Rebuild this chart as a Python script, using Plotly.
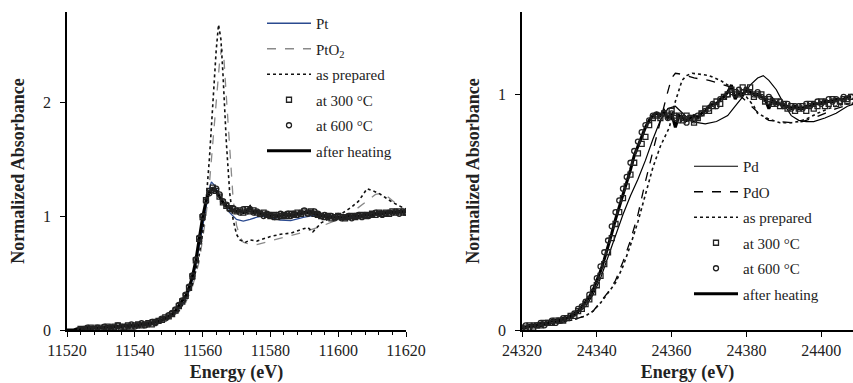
import plotly.graph_objects as go

# ---------------- LEFT PANEL (Pt L3-edge) ----------------
E_pt = [11520, 11525, 11530, 11535, 11540, 11544, 11547, 11550, 11552, 11554, 11555, 11556, 11557, 11558, 11559,
        11560, 11561, 11562, 11562.6, 11563.5, 11565, 11566.5, 11568, 11570, 11572, 11574, 11576, 11578, 11580,
        11583, 11586, 11590, 11594, 11598, 11602, 11606, 11610, 11614, 11617, 11620]
A_pt = [0.00, 0.01, 0.015, 0.02, 0.03, 0.05, 0.07, 0.11, 0.15, 0.22, 0.27, 0.34, 0.44, 0.57, 0.74,
        0.93, 1.10, 1.24, 1.30, 1.27, 1.18, 1.10, 1.03, 0.97, 0.955, 0.97, 0.99, 1.00, 0.985,
        0.965, 0.96, 0.99, 1.01, 1.00, 0.98, 0.99, 1.01, 1.03, 1.04, 1.05]

E_pto2 = [11520, 11530, 11540, 11545, 11550, 11553, 11555, 11557, 11559, 11560, 11561, 11562, 11563, 11564, 11565,
          11565.6, 11566.2, 11567, 11568, 11569, 11570, 11571, 11572, 11574, 11576, 11580, 11585, 11590, 11595,
          11600, 11604, 11608, 11611, 11613, 11615, 11617, 11620]
A_pto2 = [0.00, 0.01, 0.03, 0.05, 0.10, 0.16, 0.24, 0.38, 0.60, 0.78, 1.00, 1.28, 1.65, 2.05, 2.35,
          2.47, 2.42, 2.05, 1.55, 1.15, 0.92, 0.82, 0.77, 0.75, 0.75, 0.78, 0.82, 0.86, 0.91,
          0.97, 1.03, 1.12, 1.19, 1.20, 1.16, 1.11, 1.05]

E_prep_L = [11520, 11530, 11540, 11545, 11550, 11553, 11555, 11557, 11558, 11559, 11560, 11561, 11562, 11563, 11564,
            11564.7, 11565.4, 11566, 11567, 11568, 11569, 11570, 11571, 11572.7, 11574, 11576, 11578, 11580, 11583,
            11586, 11589, 11591, 11592.5, 11595, 11598, 11601, 11604, 11606, 11608.5, 11610, 11612, 11614, 11616,
            11618, 11620]
A_prep_L = [0.00, 0.01, 0.03, 0.05, 0.10, 0.17, 0.26, 0.40, 0.52, 0.66, 0.85, 1.12, 1.50, 1.98, 2.45,
            2.68, 2.55, 2.25, 1.65, 1.20, 0.97, 0.84, 0.79, 0.77, 0.79, 0.78, 0.80, 0.82, 0.84,
            0.85, 0.88, 0.90, 0.86, 0.94, 0.99, 1.02, 1.08, 1.13, 1.24, 1.22, 1.20, 1.16, 1.12,
            1.09, 1.06]

E_exp_L = list(range(11524, 11621))
A_300_L = [0.01, 0.00, 0.01, 0.02, 0.01, 0.02, 0.01, 0.02, 0.03, 0.02,
           0.03, 0.04, 0.02, 0.03, 0.04, 0.03, 0.04, 0.05, 0.04, 0.05,
           0.06, 0.05, 0.07, 0.08, 0.09, 0.11, 0.12, 0.14, 0.17, 0.21,
           0.25, 0.30, 0.37, 0.47, 0.61, 0.80, 0.99, 1.14, 1.22, 1.25,
           1.22, 1.17, 1.12, 1.09, 1.07, 1.06, 1.04, 1.05, 1.03, 1.06,
           1.04, 1.05, 1.03, 1.02, 1.03, 1.01, 1.00, 1.01, 0.99, 1.00,
           1.01, 1.00, 1.02, 1.01, 1.03, 1.02, 1.04, 1.03, 1.04, 1.02,
           1.01, 1.00, 0.99, 1.00, 0.98, 0.99, 1.00, 0.99, 0.98, 0.99,
           1.00, 0.99, 1.00, 1.01, 1.00, 1.01, 1.02, 1.01, 1.03, 1.02,
           1.03, 1.02, 1.04, 1.03, 1.04, 1.03, 1.03]
A_600_L = [0.00, 0.01, 0.02, 0.01, 0.00, 0.02, 0.01, 0.03, 0.01, 0.02,
           0.02, 0.04, 0.03, 0.02, 0.03, 0.05, 0.03, 0.04, 0.06, 0.04,
           0.05, 0.07, 0.06, 0.08, 0.10, 0.10, 0.13, 0.15, 0.18, 0.22,
           0.26, 0.31, 0.38, 0.48, 0.62, 0.81, 1.00, 1.13, 1.20, 1.23,
           1.24, 1.19, 1.13, 1.10, 1.06, 1.07, 1.05, 1.03, 1.06, 1.04,
           1.06, 1.03, 1.04, 1.02, 1.00, 1.02, 1.01, 0.99, 1.01, 1.02,
           1.00, 1.02, 1.00, 1.02, 1.01, 1.03, 1.05, 1.02, 1.03, 1.04,
           1.02, 1.00, 1.01, 0.99, 1.00, 0.98, 1.00, 0.98, 0.99, 1.00,
           0.98, 1.00, 1.01, 0.99, 1.01, 1.00, 1.01, 1.03, 1.02, 1.01,
           1.02, 1.03, 1.03, 1.04, 1.02, 1.04, 1.03]

E_heat_L = list(range(11520, 11621))
A_heat_L = [0.00, 0.00, 0.00, 0.01, 0.01, 0.01, 0.02, 0.01, 0.02, 0.02,
            0.02, 0.02, 0.03, 0.02, 0.03, 0.03, 0.03, 0.04, 0.03, 0.04,
            0.04, 0.04, 0.05, 0.05, 0.06, 0.06, 0.07, 0.08, 0.09, 0.10,
            0.12, 0.14, 0.17, 0.21, 0.25, 0.30, 0.37, 0.47, 0.61, 0.80,
            0.99, 1.13, 1.21, 1.24, 1.22, 1.17, 1.12, 1.09, 1.07, 1.05,
            1.04, 1.05, 1.03, 1.04, 1.08, 1.03, 1.04, 1.02, 1.02, 1.01,
            1.00, 1.01, 1.00, 1.00, 1.01, 1.00, 1.01, 1.01, 1.02, 1.02,
            1.03, 1.03, 1.03, 1.02, 1.01, 1.00, 1.00, 0.99, 0.99, 0.99,
            0.99, 0.99, 0.99, 1.00, 1.00, 1.00, 1.00, 1.00, 1.01, 1.01,
            1.01, 1.02, 1.02, 1.02, 1.03, 1.03, 1.03, 1.03, 1.04, 1.04,
            1.04]

# ---------------- RIGHT PANEL (Pd K-edge) ----------------
E_pd = [24320, 24325, 24330, 24334, 24337, 24339, 24341, 24343, 24345, 24347,
        24349, 24351, 24353, 24355, 24357, 24359, 24361, 24363, 24365, 24367,
        24369, 24372, 24375, 24377, 24379, 24381, 24383, 24384.5, 24386, 24388,
        24390, 24392, 24394, 24396, 24398, 24401, 24404, 24407, 24409]
A_pd = [0.01, 0.02, 0.035, 0.06, 0.10, 0.15, 0.22, 0.31, 0.40, 0.49,
        0.57, 0.64, 0.72, 0.81, 0.89, 0.94, 0.95, 0.92, 0.89, 0.88,
        0.875, 0.885, 0.91, 0.95, 0.99, 1.04, 1.07, 1.08, 1.06, 1.02,
        0.96, 0.91, 0.89, 0.885, 0.885, 0.90, 0.92, 0.95, 0.96]

E_pdo = [24320, 24325, 24330, 24334, 24337, 24339, 24341, 24343, 24345, 24347,
         24349, 24351, 24353, 24355, 24357, 24358.6, 24360, 24361, 24363, 24366,
         24370, 24373, 24376, 24378, 24380, 24382, 24384, 24386, 24389, 24392,
         24395, 24398, 24401, 24404, 24407, 24409]
A_pdo = [0.01, 0.015, 0.03, 0.045, 0.06, 0.08, 0.12, 0.16, 0.21, 0.29,
         0.38, 0.49, 0.63, 0.76, 0.88, 0.99, 1.07, 1.09, 1.085, 1.07,
         1.06, 1.045, 1.03, 1.00, 0.97, 0.94, 0.91, 0.89, 0.885, 0.88,
         0.885, 0.90, 0.92, 0.94, 0.955, 0.96]

E_prep_R = [24320, 24325, 24330, 24334, 24337, 24339, 24341, 24343, 24345, 24347,
            24349, 24351, 24353, 24355, 24357, 24359.4, 24361, 24362.8, 24364, 24365.5,
            24368, 24370, 24373, 24375, 24378, 24380, 24382, 24383, 24386, 24389,
            24392, 24394, 24396.6, 24399, 24402, 24405, 24409]
A_prep_R = [0.01, 0.015, 0.03, 0.045, 0.06, 0.08, 0.115, 0.155, 0.20, 0.27,
            0.36, 0.46, 0.58, 0.69, 0.78, 0.86, 0.97, 1.06, 1.08, 1.09,
            1.085, 1.08, 1.06, 1.04, 1.01, 0.99, 0.95, 0.92, 0.895, 0.88,
            0.88, 0.885, 0.90, 0.92, 0.94, 0.955, 0.965]

E_exp_R = list(range(24320, 24409))
A_300_R = [0.00, 0.01, 0.02, 0.01, 0.02, 0.02, 0.03, 0.03, 0.03, 0.04,
           0.04, 0.04, 0.05, 0.06, 0.06, 0.08, 0.09, 0.11, 0.13, 0.16,
           0.19, 0.23, 0.28, 0.33, 0.39, 0.45, 0.50, 0.56, 0.61, 0.66,
           0.71, 0.75, 0.79, 0.82, 0.87, 0.90, 0.91, 0.90, 0.92, 0.91,
           0.93, 0.90, 0.91, 0.89, 0.91, 0.90, 0.88, 0.90, 0.92, 0.94,
           0.93, 0.95, 0.97, 0.96, 0.99, 1.00, 1.02, 1.01, 1.00, 1.03,
           1.01, 1.03, 0.99, 1.00, 1.00, 0.97, 0.98, 0.96, 0.97, 0.95,
           0.96, 0.94, 0.95, 0.93, 0.94, 0.95, 0.93, 0.96, 0.94, 0.95,
           0.97, 0.95, 0.96, 0.98, 0.96, 0.97, 0.98, 0.97, 0.99]
A_600_R = [0.01, 0.02, 0.01, 0.02, 0.02, 0.03, 0.02, 0.03, 0.04, 0.03,
           0.04, 0.05, 0.05, 0.06, 0.07, 0.09, 0.10, 0.12, 0.15, 0.18,
           0.22, 0.27, 0.33, 0.38, 0.44, 0.50, 0.55, 0.60, 0.65, 0.71,
           0.76, 0.80, 0.84, 0.87, 0.89, 0.91, 0.915, 0.91, 0.92, 0.90,
           0.92, 0.91, 0.89, 0.90, 0.88, 0.90, 0.89, 0.91, 0.92, 0.93,
           0.94, 0.96, 0.95, 0.98, 0.99, 1.00, 1.01, 1.00, 1.02, 1.01,
           1.02, 1.01, 1.00, 1.01, 0.99, 0.98, 0.99, 0.97, 0.96, 0.97,
           0.95, 0.96, 0.94, 0.95, 0.95, 0.94, 0.96, 0.95, 0.96, 0.97,
           0.96, 0.97, 0.98, 0.97, 0.98, 0.97, 0.99, 0.98, 0.99]
A_heat_R = [0.01, 0.01, 0.02, 0.02, 0.02, 0.03, 0.03, 0.03, 0.04, 0.04,
            0.04, 0.05, 0.05, 0.06, 0.07, 0.08, 0.10, 0.12, 0.14, 0.17,
            0.21, 0.25, 0.30, 0.35, 0.41, 0.47, 0.52, 0.58, 0.63, 0.68,
            0.74, 0.78, 0.82, 0.86, 0.89, 0.91, 0.92, 0.91, 0.93, 0.90,
            0.92, 0.86, 0.91, 0.90, 0.89, 0.90, 0.91, 0.90, 0.92, 0.93,
            0.95, 0.96, 0.96, 0.98, 0.99, 1.01, 1.04, 0.98, 1.01, 1.00,
            1.02, 1.01, 1.00, 1.00, 0.99, 0.98, 0.94, 0.98, 0.96, 0.96,
            0.95, 0.95, 0.94, 0.95, 0.94, 0.94, 0.95, 0.95, 0.96, 0.96,
            0.96, 0.97, 0.97, 0.97, 0.98, 0.98, 0.98, 0.99, 0.99]

X_TICKS_L = [11520, 11540, 11560, 11580, 11600, 11620]
X_TICKS_R = [24320, 24340, 24360, 24380, 24400]
Y_TICKS_L = [0, 1, 2]
Y_TICKS_R = [0, 1]

SERIF = "Liberation Serif"

fig = go.Figure()

def add(x, y, name, axis, legend, rank, **kw):
    fig.add_trace(go.Scatter(x=x, y=y, name=name, xaxis="x" + axis, yaxis="y" + axis,
                             legend=legend, legendrank=rank, legendgroup=legend + str(rank), **kw))

sq = dict(symbol="square-open", size=5, color="#222", line=dict(width=1.3, color="#222"))
ci = dict(symbol="circle-open", size=5, color="#222", line=dict(width=1.3, color="#222"))

# left panel
add(E_pt, A_pt, "Pt", "", "legend", 1, mode="lines", line=dict(color="#2B4A8F", width=1.3))
add(E_pto2, A_pto2, "PtO<sub>2</sub>", "", "legend", 2, mode="lines", line=dict(color="#8a8a8a", width=1.3, dash="dash"))
add(E_prep_L, A_prep_L, "as prepared", "", "legend", 3, mode="lines", line=dict(color="#111", width=1.6, dash="dot"))
add(E_heat_L, A_heat_L, "after heating", "", "legend", 6, mode="lines", line=dict(color="black", width=3))
add(E_exp_L, A_300_L, "at 300 °C", "", "legend", 4, mode="markers", marker=sq)
add(E_exp_L, A_600_L, "at 600 °C", "", "legend", 5, mode="markers", marker=ci)

# right panel
add(E_pd, A_pd, "Pd", "2", "legend2", 1, mode="lines", line=dict(color="black", width=1.2))
add(E_pdo, A_pdo, "PdO", "2", "legend2", 2, mode="lines", line=dict(color="black", width=1.3, dash="dash"))
add(E_prep_R, A_prep_R, "as prepared", "2", "legend2", 3, mode="lines", line=dict(color="#111", width=1.6, dash="dot"))
add(E_exp_R, A_heat_R, "after heating", "2", "legend2", 6, mode="lines", line=dict(color="black", width=3))
add(E_exp_R, A_300_R, "at 300 °C", "2", "legend2", 4, mode="markers", marker=sq)
add(E_exp_R, A_600_R, "at 600 °C", "2", "legend2", 5, mode="markers", marker=ci)

axis_common = dict(showline=True, linecolor="black", linewidth=1.5, showgrid=False, zeroline=False,
                   ticks="outside", ticklen=5, tickcolor="black", tickwidth=1, automargin=False,
                   tickformat="d", tickfont=dict(family=SERIF, size=16, color="#222"))
title_font = dict(family=SERIF, size=18, color="#222")

YB, YT = 1 - 330 / 383, 1 - 12 / 383

fig.update_layout(
    template="none",
    width=853, height=383, margin=dict(l=0, r=0, t=0, b=0, autoexpand=False),
    paper_bgcolor="white", plot_bgcolor="white", showlegend=True,
    font=dict(family=SERIF),
    xaxis=dict(domain=[67 / 853, 406 / 853], range=[11520, 11620], tickvals=X_TICKS_L,
               minor=dict(dtick=4, ticks="outside", ticklen=3, tickcolor="black", showgrid=False),
               title=dict(text="<b>Energy (eV)</b>", font=title_font, standoff=11), anchor="y", **axis_common),
    yaxis=dict(domain=[YB, YT], range=[0, 2.79], tickvals=Y_TICKS_L, ticklabelstandoff=6,
               title=dict(text="<b>Normalized Absorbance</b>", font=title_font, standoff=14), anchor="x", **axis_common),
    xaxis2=dict(domain=[522 / 853, 1.0], range=[24320, 24408.5], tickvals=X_TICKS_R,
                title=dict(text="<b>Energy (eV)</b>", font=title_font, standoff=11), anchor="y2", **axis_common),
    yaxis2=dict(domain=[YB, YT], range=[0, 1.35], tickvals=Y_TICKS_R, ticklabelstandoff=6,
                title=dict(text="<b>Normalized Absorbance</b>", font=title_font, standoff=14), anchor="x2", **axis_common),
    legend=dict(x=262 / 853, y=1 - 7 / 383, xanchor="left", yanchor="top", bgcolor="rgba(0,0,0,0)", itemwidth=44,
                font=dict(family=SERIF, size=15, color="#222"), tracegroupgap=3, traceorder="grouped"),
    legend2=dict(x=689 / 853, y=1 - 150 / 383, xanchor="left", yanchor="top", bgcolor="rgba(0,0,0,0)", itemwidth=44,
                 font=dict(family=SERIF, size=15, color="#222"), tracegroupgap=3, traceorder="grouped"),
)

fig.write_html("out.html", config={"displayModeBar": False},
               post_script="document.body.style.margin='0px';")
